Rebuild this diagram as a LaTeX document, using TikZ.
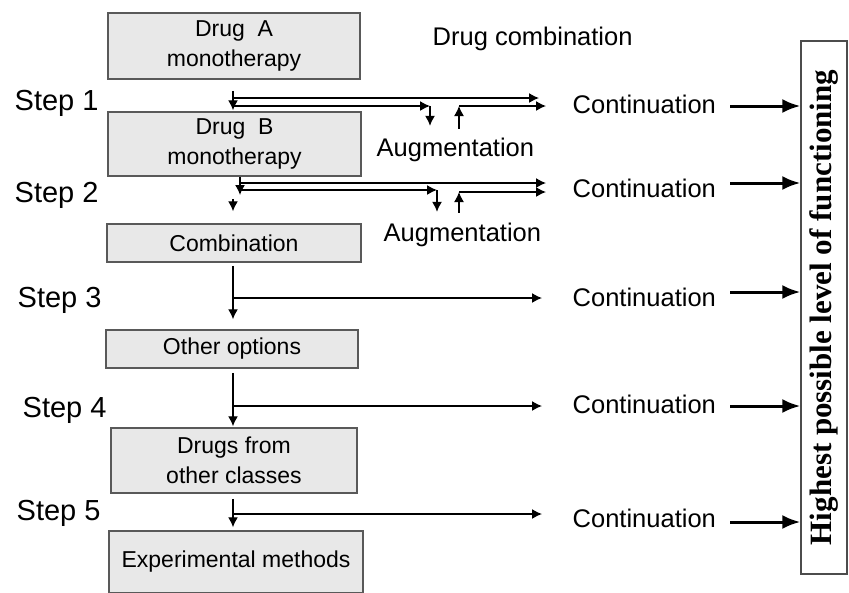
\documentclass[tikz,border=0pt]{standalone}
\usepackage{fontspec}
\setmainfont{Liberation Sans}
\newfontfamily\hplffont{Liberation Serif}
\usetikzlibrary{arrows.meta}

\begin{document}
\begin{tikzpicture}[x=1pt,y=-1pt,->,>={Latex[length=10pt,width=10pt]},line width=1.4pt]
    \tikzstyle{drugbox}=[draw=black!65,fill=black!9,line width=1.5pt,align=center,inner sep=0pt,font=\fontsize{23}{29.5}\selectfont]
    \tikzstyle{steplbl}=[anchor=base west,inner sep=0pt,font=\fontsize{29}{34}\selectfont]
    \tikzstyle{lbl}=[inner sep=0pt,font=\fontsize{25.5}{30}\selectfont]
    \tikzstyle{bigarrow}=[line width=3pt,>={Latex[length=18pt,width=14pt]}]
    \useasboundingbox (0,0) rectangle (849,592);

    % treatment boxes
    \node[drugbox,minimum width=252pt,minimum height=66pt] (drugA)   at (234,46)    {Drug\ \ A\\monotherapy};
    \node[drugbox,minimum width=253pt,minimum height=64pt] (drugB)   at (234.5,144) {Drug\ \ B\\monotherapy};
    \node[drugbox,minimum width=254pt,minimum height=38pt] (comb)    at (234,243)   {Combination};
    \node[drugbox,minimum width=252pt,minimum height=38pt] (other)   at (232,349)   {Other options};
    \node[drugbox,minimum width=246pt,minimum height=65pt] (classes) at (234,460.5) {Drugs from\\other classes};
    \node[drugbox,minimum width=254pt,minimum height=62pt] (exper)   at (236,562)   {Experimental methods};

    % step labels
    \node[steplbl] (s1) at (14,110) {Step 1};
    \node[steplbl] (s2) at (14,202) {Step 2};
    \node[steplbl] (s3) at (17,307) {Step 3};
    \node[steplbl] (s4) at (22,417) {Step 4};
    \node[steplbl] (s5) at (16,520) {Step 5};

    % other texts
    \node[lbl,anchor=base west] (combi) at (432,45)  {Drug combination};
    \node[lbl,anchor=base west] (aug1)  at (376,156) {Augmentation};
    \node[lbl,anchor=base west] (aug2)  at (383,241) {Augmentation};
    \node[lbl,anchor=west] (cont1) at (572,104) {Continuation};
    \node[lbl,anchor=west] (cont2) at (572,188) {Continuation};
    \node[lbl,anchor=west] (cont3) at (572,297) {Continuation};
    \node[lbl,anchor=west] (cont4) at (572,404) {Continuation};
    \node[lbl,anchor=west] (cont5) at (572,518) {Continuation};
    \node[draw=black!70,line width=1.3pt,minimum width=46pt,minimum height=533pt,inner sep=0pt] (hplf) at (824,307.5)
        {\rotatebox{90}{\fontsize{31}{35}\hplffont\bfseries Highest possible level of functioning}};

    % spines
    \coordinate (sp)  at (233,0);
    \coordinate (sp2) at (240,0);

    % step 1
    \coordinate (t1) at (539,98);
    \coordinate (k1) at (430,106);
    \coordinate (u1) at (459,106);
    \coordinate (e1) at (546,106);
    \draw[shorten <=11pt,shorten >=1pt] (drugA.south -| sp) -- (drugB.north -| sp);
    \draw (t1 -| sp) -- (t1);
    \draw (k1 -| sp) -- (k1);
    \draw[shorten >=11pt] (k1) -- (k1 |- aug1.north);
    \draw[shorten <=8pt] (u1 |- aug1.north) -- (u1);
    \draw (u1) -- (e1);

    % step 2
    \coordinate (d2) at (240,195);
    \coordinate (t2) at (546,183);
    \coordinate (k2) at (437,190);
    \coordinate (u2) at (459,192);
    \coordinate (e2) at (546,192);
    \draw[shorten <=22pt,shorten >=12pt] (drugB.south -| sp) -- (comb.north -| sp);
    \draw (drugB.south -| sp2) -- (d2);
    \draw (t2 -| sp2) -- (t2);
    \draw (k2 -| sp2) -- (k2);
    \draw[shorten >=10pt] (k2) -- (k2 |- aug2.north);
    \draw[shorten <=9pt] (u2 |- aug2.north) -- (u2);
    \draw (u2) -- (e2);

    % steps 3 to 5
    \coordinate (t3) at (542,298);
    \coordinate (t4) at (542,406);
    \coordinate (t5) at (542,514);
    \draw[shorten <=3pt,shorten >=10pt] (comb.south -| sp) -- (other.north -| sp);
    \draw (t3 -| sp) -- (t3);
    \draw[shorten <=4pt,shorten >=1pt] (other.south -| sp) -- (classes.north -| sp);
    \draw (t4 -| sp) -- (t4);
    \draw[shorten <=5pt,shorten >=3pt] (classes.south -| sp) -- (exper.north -| sp);
    \draw (t5 -| sp) -- (t5);

    % to the goal
    \foreach \c/\y in {cont1/106,cont2/183,cont3/292,cont4/406,cont5/522}
        \draw[bigarrow] (730,\y) -- (hplf.west |- 0,\y);
\end{tikzpicture}
\end{document}
